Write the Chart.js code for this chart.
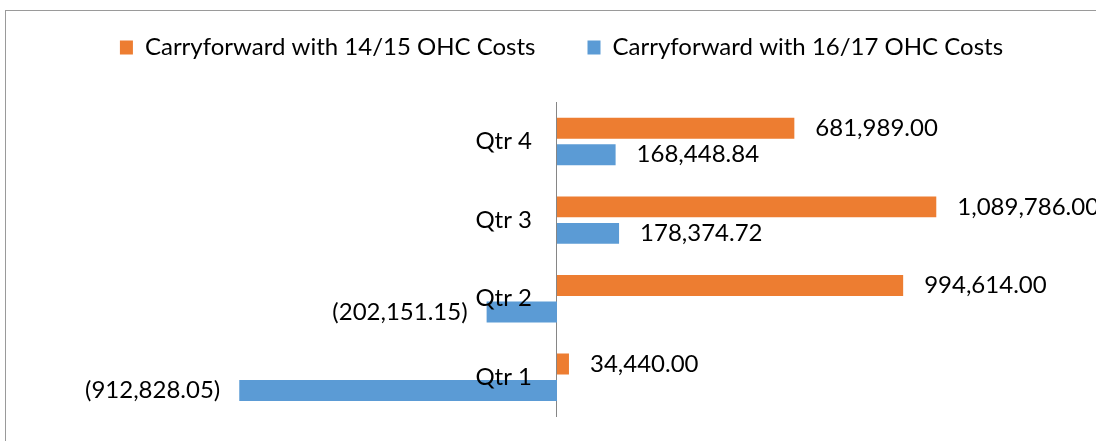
<!DOCTYPE html>
<html>
<head>
<meta charset="utf-8">
<script src="https://cdn.jsdelivr.net/npm/chart.js@4.4.1/dist/chart.umd.min.js"></script>
<style>
  html, body { margin: 0; padding: 0; background: #fff; overflow: hidden; }
  #box { position: absolute; left: 5px; top: 10px; width: 1111px; height: 430px; border: 1px solid #9a9a9a; }
</style>
</head>
<body>
<div id="box"><canvas id="mycanvas" width="1111" height="430"></canvas></div>
<script>
var categories = ['Qtr 4', 'Qtr 3', 'Qtr 2', 'Qtr 1'];
var cf1415 = [681989.00, 1089786.00, 994614.00, 34440.00];
var cf1617 = [168448.84, 178374.72, -202151.15, -912828.05];
var seriesNames = ['Carryforward with 14/15 OHC Costs', 'Carryforward with 16/17 OHC Costs'];

var FONT = '24px Lato';

var fmt = function(v) {
  var s = Math.abs(v).toLocaleString('en-US', {minimumFractionDigits: 2, maximumFractionDigits: 2});
  return v < 0 ? '(' + s + ')' : s;
};

// category names next to the zero line + value labels outside the bar ends
var labelPlugin = {
  id: 'barLabels',
  afterDatasetsDraw: function(chart) {
    var ctx = chart.ctx;
    var xs = chart.scales.x, ys = chart.scales.y;
    var x0 = xs.getPixelForValue(0);
    ctx.save();
    ctx.font = FONT;
    ctx.fillStyle = '#000';
    ctx.textBaseline = 'middle';
    ctx.textAlign = 'right';
    for (var i in categories) {
      ctx.fillText(categories[i], x0 - 25, ys.getPixelForValue(+i));
    }
    chart.data.datasets.forEach(function(ds, di) {
      chart.getDatasetMeta(di).data.forEach(function(bar, j) {
        var v = ds.data[j];
        if (v < 0) {
          ctx.textAlign = 'right';
          ctx.fillText(fmt(v), bar.x - 19, bar.y);
        } else {
          ctx.textAlign = 'left';
          ctx.fillText(fmt(v), bar.x + 21, bar.y);
        }
      });
    });
    ctx.restore();
  }
};

var chartdata = {
  labels: categories,
  datasets: [
    {
      label: seriesNames[0],
      data: cf1415,
      backgroundColor: '#ED7D31',
      borderWidth: 0,
      categoryPercentage: 0.674,
      barPercentage: 0.79
    },
    {
      label: seriesNames[1],
      data: cf1617,
      backgroundColor: '#5B9BD5',
      borderWidth: 0,
      categoryPercentage: 0.674,
      barPercentage: 0.79
    }
  ]
};

var ctx = document.getElementById('mycanvas');
var barChart = new Chart(ctx, {
  type: 'bar',
  data: chartdata,
  plugins: [labelPlugin],
  options: {
    indexAxis: 'y',
    responsive: false,
    animation: false,
    layout: { padding: { top: -27.5, bottom: 24.4, left: 0, right: 0 } },
    plugins: {
      legend: {
        position: 'top',
        labels: {
          boxWidth: 13,
          boxHeight: 14,
          padding: 52,
          color: '#000',
          font: { family: 'Lato', size: 24 }
        }
      },
      tooltip: { enabled: false }
    },
    scales: {
      x: {
        type: 'linear',
        position: 'top',
        min: -1583000,
        max: 1609000,
        ticks: { display: false },
        grid: { display: false },
        border: { display: false },
        afterFit: function(s) { s.height = 32.7; }
      },
      y: {
        position: { x: 0 },
        ticks: { display: false },
        grid: { display: false, drawTicks: false },
        border: { display: true, color: '#868686', width: 1 }
      }
    }
  }
});
</script>
</body>
</html>
